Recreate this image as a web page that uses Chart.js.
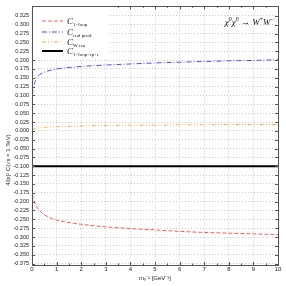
<!DOCTYPE html>
<html><head><meta charset="utf-8">
<script src="https://cdn.jsdelivr.net/npm/chart.js@4"></script>
<style>html,body{margin:0;padding:0;background:#fff}canvas{display:block}</style>
</head><body>
<canvas id="c" width="286" height="286"></canvas>
<script>
const xValues   = [0.01, 0.05, 0.1, 0.2, 0.3, 0.5, 0.75, 1, 1.5, 2, 3, 4, 5, 6, 7, 8, 9, 10];
const c1Loop    = [-0.180, -0.191, -0.201, -0.215, -0.225, -0.237, -0.246, -0.252, -0.259, -0.264, -0.271, -0.276, -0.280, -0.284, -0.287, -0.289, -0.291, -0.293];
const cRealProd = [0.102, 0.118, 0.134, 0.150, 0.158, 0.166, 0.171, 0.175, 0.179, 0.182, 0.186, 0.189, 0.192, 0.194, 0.196, 0.198, 0.199, 0.201];
const cWRen     = [0.002, 0.004, 0.006, 0.008, 0.009, 0.010, 0.011, 0.012, 0.013, 0.014, 0.015, 0.016, 0.016, 0.017, 0.017, 0.018, 0.018, 0.018];
const cTotal    = [-0.100, -0.100, -0.100, -0.100, -0.100, -0.100, -0.100, -0.100, -0.100, -0.100, -0.100, -0.100, -0.100, -0.100, -0.100, -0.100, -0.100, -0.100];
const seriesSubscripts = ['1\u2212loop', 'real prod.', 'W ren', '1\u2212loop+rp+r'];
const xTickValues = [0, 1, 2, 3, 4, 5, 6, 7, 8, 9, 10];
const yTickValues = [-0.375, -0.35, -0.325, -0.3, -0.275, -0.25, -0.225, -0.2, -0.175, -0.15, -0.125, -0.1, -0.075, -0.05, -0.025, 0, 0.025, 0.05, 0.075, 0.1, 0.125, 0.15, 0.175, 0.2, 0.225, 0.25, 0.275, 0.3, 0.325];
const titleParts = [['\u03C7','n'],['0','s'],['\u03C7','n'],['0','s'],[' \u2192 ','n'],['W','n'],['+','s'],['W','n'],['\u2212','s']];
const xAxisTitle = 'm\u1D67\u207B\u00B9 [GeV\u207B\u00B9]';
const yAxisTitle = '4/|\u03B5|\u00B2 C(\u221As = 1 TeV)';

function pts(ys){ return xValues.map((x,i)=>({x:x, y:ys[i]})); }

const datasets = [
  {label:'C 1-loop', data:pts(c1Loop), borderColor:'#ff5a5a', borderWidth:1, borderDash:[4,2]},
  {label:'C real prod.', data:pts(cRealProd), borderColor:'#4848ff', borderWidth:1, borderDash:[5,2,1,2]},
  {label:'C W ren', data:pts(cWRen), borderColor:'#ffa850', borderWidth:1, borderDash:[4,2,1,2,1,2]},
  {label:'C 1-loop+rp+r', data:pts(cTotal), borderColor:'#000000', borderWidth:2, borderDash:[]}
];
datasets.forEach(d=>{ d.pointRadius=0; d.fill=false; d.cubicInterpolationMode='monotone'; });

const decor = {
  id:'decor',
  afterDraw(chart){
    const ctx = chart.ctx, a = chart.chartArea;
    const xs = chart.scales.x, ys = chart.scales.y;
    ctx.save();
    ctx.strokeStyle = '#555'; ctx.lineWidth = 1;
    ctx.beginPath();
    for (let v = 0; v <= 10.001; v += 0.5) {
      const px = Math.round(xs.getPixelForValue(v)) + 0.5;
      const len = (Math.abs(v - Math.round(v)) < 1e-6) ? 3 : 1.5;
      ctx.moveTo(px, a.bottom); ctx.lineTo(px, a.bottom - len);
      ctx.moveTo(px, a.top); ctx.lineTo(px, a.top + len);
    }
    yTickValues.forEach(v=>{
      const py = Math.round(ys.getPixelForValue(v)) + 0.5;
      ctx.moveTo(a.left, py); ctx.lineTo(a.left + 3, py);
      ctx.moveTo(a.right, py); ctx.lineTo(a.right - 3, py);
    });
    ctx.stroke();
    ctx.strokeStyle = '#555'; ctx.lineWidth = 1;
    ctx.strokeRect(Math.round(a.left)+0.5, Math.round(a.top)+0.5, Math.round(a.right-a.left), Math.round(a.bottom-a.top));
    // legend
    ctx.fillStyle = '#fff';
    ctx.fillRect(Math.round(a.left)+1, Math.round(a.top)+1, 76, 52);
    const rows = [21, 32, 42, 51];
    chart.data.datasets.forEach((d,i)=>{
      const y = rows[i];
      ctx.strokeStyle = d.borderColor; ctx.lineWidth = d.borderWidth;
      ctx.setLineDash(d.borderDash);
      ctx.beginPath(); ctx.moveTo(42, y); ctx.lineTo(63, y); ctx.stroke();
      ctx.setLineDash([]);
      ctx.fillStyle = '#111';
      ctx.textBaseline = 'alphabetic'; ctx.textAlign = 'left';
      ctx.font = 'italic 9px "Liberation Serif", serif';
      ctx.fillText('C', 67, y + 3);
      ctx.font = '5px "Liberation Serif", serif';
      ctx.fillText(seriesSubscripts[i], 73, y + 5);
    });
    // title with superscripts
    ctx.fillStyle = '#111';
    ctx.textAlign = 'left'; ctx.textBaseline = 'alphabetic';
    const fN = 'italic 9px "Liberation Serif", serif', fS = '6px "Liberation Serif", serif';
    let total = 0;
    titleParts.forEach(p=>{ ctx.font = p[1]==='s'?fS:fN; total += ctx.measureText(p[0]).width; });
    let tx = 274 - total;
    titleParts.forEach(p=>{
      ctx.font = p[1]==='s'?fS:fN;
      ctx.fillText(p[0], tx, p[1]==='s' ? 21 : 25);
      tx += ctx.measureText(p[0]).width;
    });
    // y title
    ctx.save();
    ctx.translate(8, 160);
    ctx.rotate(-Math.PI/2);
    ctx.textAlign = 'center'; ctx.textBaseline = 'middle';
    ctx.font = '6px "Liberation Sans", sans-serif';
    ctx.fillStyle = '#222';
    ctx.fillText(yAxisTitle, 0, 0);
    ctx.restore();
    ctx.restore();
  }
};

new Chart(document.getElementById('c'), {
  type:'line',
  data:{datasets:datasets},
  options:{
    responsive:false, animation:false, devicePixelRatio:1,
    layout:{padding:{top:5, right:8, left:0, bottom:0}},
    plugins:{legend:{display:false}, tooltip:{enabled:false}},
    scales:{
      x:{type:'linear', min:0, max:10,
        afterBuildTicks(s){ s.ticks = xTickValues.map(v=>({value:v})); },
        afterFit(s){ s.height = 21; },
        ticks:{font:{size:6, family:'"Liberation Sans", sans-serif'}, color:'#222', padding:1, maxRotation:0, autoSkip:false,
          callback:(v)=>String(v)},
        grid:{color:'#c8c8c8', lineWidth:1, drawTicks:false, tickLength:0},
        border:{display:false, dash:[1,2]},
        title:{display:true, text:xAxisTitle, font:{size:6, family:'"Liberation Sans", sans-serif'}, color:'#222', padding:{top:0, bottom:4}}
      },
      y:{type:'linear', min:-0.379, max:0.352,
        afterBuildTicks(s){ s.ticks = yTickValues.map(v=>({value:v})); },
        afterFit(s){ s.width = 32; },
        ticks:{font:{size:5.5, family:'"Liberation Sans", sans-serif'}, color:'#222', padding:3, autoSkip:false,
          callback:(v)=>v.toFixed(3)},
        grid:{color:'#c8c8c8', lineWidth:1, drawTicks:false, tickLength:0},
        border:{display:false, dash:[1,2]}
      }
    }
  },
  plugins:[decor]
});
</script>
</body></html>
